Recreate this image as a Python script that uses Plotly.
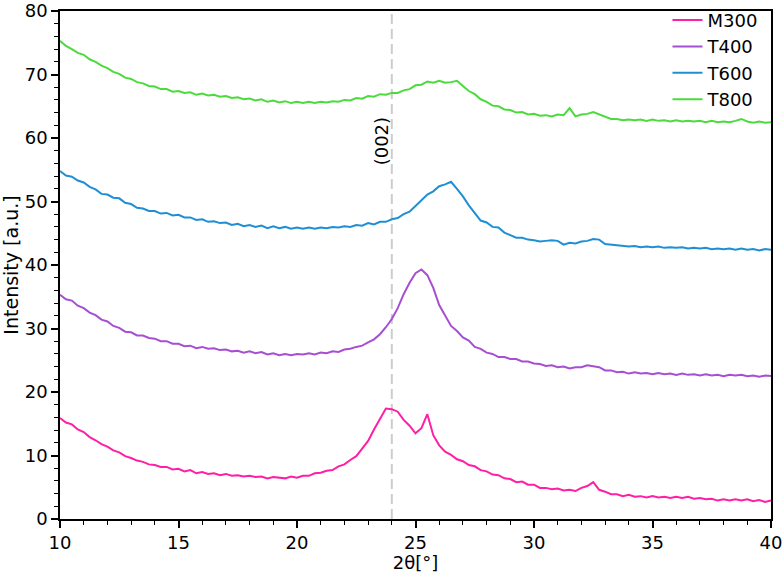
import numpy as np
import plotly.graph_objects as go

# 2-theta grid: 10 .. 40 deg in 0.25 deg steps (121 points)
two_theta = np.round(np.arange(121) * 0.25 + 10.0, 2)

m300 = [
    15.9, 15.2, 14.9, 14.1, 13.7, 12.9, 12.4, 11.8,
    11.4, 10.8, 10.5, 9.9, 9.6, 9.2, 9.0, 8.6,
    8.5, 8.2, 8.2, 7.8, 7.9, 7.5, 7.7, 7.2,
    7.4, 7.1, 7.2, 6.9, 7.1, 6.8, 6.9, 6.7,
    6.8, 6.6, 6.7, 6.4, 6.6, 6.5, 6.4, 6.7,
    6.5, 6.8, 6.8, 7.2, 7.3, 7.6, 7.7, 8.3,
    8.6, 9.3, 9.9, 11.1, 12.3, 14.1, 15.7, 17.4,
    17.3, 16.9, 15.6, 14.7, 13.5, 14.3, 16.5, 13.2,
    11.6, 10.6, 10.1, 9.4, 9.1, 8.5, 8.3, 7.7,
    7.5, 7.0, 6.9, 6.4, 6.3, 5.8, 5.9, 5.4,
    5.4, 4.9, 4.9, 4.7, 4.8, 4.5, 4.6, 4.4,
    4.9, 5.2, 5.8, 4.6, 4.3, 3.9, 3.9, 3.6,
    3.8, 3.5, 3.6, 3.4, 3.6, 3.4, 3.5, 3.3,
    3.5, 3.3, 3.5, 3.2, 3.3, 3.1, 3.2, 2.9,
    3.1, 2.9, 3.1, 2.9, 3.1, 2.8, 3.0, 2.7,
    2.9,
]

t400 = [
    35.3, 34.6, 34.4, 33.6, 33.2, 32.5, 32.1, 31.4,
    31.1, 30.4, 30.1, 29.5, 29.4, 28.9, 28.9, 28.5,
    28.4, 28.0, 28.0, 27.6, 27.6, 27.2, 27.3, 26.9,
    27.1, 26.8, 26.9, 26.6, 26.7, 26.4, 26.5, 26.2,
    26.4, 26.1, 26.3, 25.9, 26.1, 25.8, 26.0, 25.8,
    26.0, 25.9, 26.1, 25.9, 26.2, 26.1, 26.4, 26.3,
    26.7, 26.8, 27.1, 27.3, 27.8, 28.3, 29.1, 30.2,
    31.5, 33.2, 35.4, 37.2, 38.7, 39.3, 38.4, 36.4,
    33.7, 32.0, 30.4, 29.6, 28.6, 28.1, 27.1, 26.8,
    26.2, 26.0, 25.5, 25.5, 25.2, 25.2, 24.8, 24.8,
    24.5, 24.4, 24.1, 24.2, 23.9, 24.0, 23.7, 23.9,
    23.9, 24.2, 24.0, 23.9, 23.4, 23.4, 23.1, 23.2,
    22.9, 23.1, 22.9, 23.0, 22.8, 23.0, 22.8, 22.9,
    22.7, 22.9, 22.7, 22.8, 22.6, 22.8, 22.6, 22.7,
    22.5, 22.7, 22.6, 22.7, 22.5, 22.6, 22.4, 22.6,
    22.5,
]

t600 = [
    54.8, 54.1, 53.9, 53.3, 53.0, 52.3, 51.9, 51.2,
    51.1, 50.6, 50.5, 49.8, 49.6, 49.0, 48.9, 48.5,
    48.5, 48.1, 48.2, 47.8, 47.9, 47.5, 47.5, 47.1,
    47.2, 46.8, 46.9, 46.6, 46.7, 46.3, 46.5, 46.1,
    46.3, 46.0, 46.2, 45.8, 46.1, 45.8, 46.0, 45.7,
    45.9, 45.7, 45.9, 45.7, 45.9, 45.8, 46.0, 45.9,
    46.1, 46.0, 46.3, 46.2, 46.6, 46.4, 46.8, 46.8,
    47.2, 47.4, 48.0, 48.4, 49.3, 50.2, 51.1, 51.6,
    52.4, 52.7, 53.1, 52.0, 50.8, 49.4, 48.1, 47.0,
    46.7, 46.0, 45.9, 45.1, 44.7, 44.3, 44.3, 44.0,
    43.9, 43.7, 43.8, 43.9, 43.8, 43.2, 43.5, 43.4,
    43.7, 43.8, 44.1, 44.0, 43.3, 43.2, 43.0, 43.0,
    42.9, 43.0, 42.8, 42.9, 42.8, 42.9, 42.7, 42.8,
    42.7, 42.8, 42.6, 42.7, 42.6, 42.7, 42.5, 42.6,
    42.5, 42.6, 42.4, 42.6, 42.4, 42.5, 42.3, 42.5,
    42.4,
]

t800 = [
    75.3, 74.5, 74.0, 73.4, 73.1, 72.4, 72.0, 71.4,
    71.0, 70.4, 70.1, 69.5, 69.3, 68.8, 68.6, 68.2,
    68.1, 67.7, 67.7, 67.3, 67.4, 67.1, 67.2, 66.8,
    67.0, 66.7, 66.8, 66.5, 66.6, 66.3, 66.4, 66.1,
    66.2, 65.9, 66.1, 65.7, 65.9, 65.6, 65.8, 65.5,
    65.7, 65.5, 65.7, 65.5, 65.7, 65.6, 65.8, 65.7,
    66.0, 65.9, 66.3, 66.2, 66.6, 66.5, 66.9, 66.8,
    67.1, 67.1, 67.5, 67.7, 68.3, 68.4, 68.9, 68.7,
    69.0, 68.7, 68.8, 69.0, 68.2, 67.4, 66.9, 66.1,
    65.7, 65.1, 65.0, 64.5, 64.4, 64.0, 64.1, 63.7,
    63.8, 63.5, 63.6, 63.4, 63.7, 63.6, 64.7, 63.4,
    63.7, 63.8, 64.1, 63.7, 63.4, 63.0, 63.0, 62.8,
    62.9, 62.8, 62.9, 62.7, 62.9, 62.7, 62.8, 62.6,
    62.8, 62.6, 62.7, 62.6, 62.7, 62.5, 62.7, 62.5,
    62.6, 62.5, 62.7, 63.0, 62.6, 62.4, 62.6, 62.4,
    62.5,
]

series_names = ["M300", "T400", "T600", "T800"]
series_values = [m300, t400, t600, t800]
series_colors = ["#ff1fa5", "#a64fd3", "#1f8fd4", "#4cdb3c"]

peak_position = 24.0
peak_label = "(002)"

fig = go.Figure()
for name, vals, col in zip(series_names, series_values, series_colors):
    fig.add_trace(go.Scatter(
        x=two_theta, y=vals, mode="lines", name=name,
        line=dict(color=col, width=2),
    ))

fig.add_shape(type="line", xref="x", yref="y", x0=peak_position, x1=peak_position,
              y0=0, y1=80, line=dict(color="#cccccc", width=2, dash="10px,5px"), layer="below")
fig.add_annotation(x=peak_position - 0.45, y=59.5, xref="x", yref="y", text=peak_label,
                   textangle=-90, showarrow=False, font=dict(size=18, color="black"))

tick_font = dict(size=18, color="black", family="DejaVu Sans")
title_font = dict(size=18, color="black", family="DejaVu Sans")
axis_common = dict(
    showgrid=False, zeroline=False, showline=True, linecolor="black", linewidth=1.5,
    mirror=True, ticks="outside", tickcolor="black", ticklen=7, tickwidth=1.5,
    tickfont=tick_font, ticklabeloverflow="allow",
)

fig.update_xaxes(range=[10, 40], dtick=5, tick0=10,
                 minor=dict(dtick=1, ticks="outside", ticklen=4, tickcolor="black", tickwidth=1.2),
                 title=dict(text="2θ[°]", font=title_font, standoff=8),
                 **axis_common)
fig.update_yaxes(range=[0, 80], dtick=10, tick0=0,
                 minor=dict(dtick=2, ticks="outside", ticklen=4, tickcolor="black", tickwidth=1.2),
                 title=dict(text="Intensity [a.u.]", font=dict(size=19, color="black", family="DejaVu Sans"),
                            standoff=3),
                 **axis_common)

fig.update_layout(
    width=783, height=573,
    margin=dict(l=60, r=12, t=11, b=54, autoexpand=False),
    paper_bgcolor="white", plot_bgcolor="white",
    font=dict(family="DejaVu Sans", color="black"),
    legend=dict(x=0.988, y=1.018, xanchor="right", yanchor="top",
                bgcolor="rgba(0,0,0,0)", font=dict(size=18, family="DejaVu Sans"),
                tracegroupgap=0),
    showlegend=True,
)

fig.write_html("out.html")
